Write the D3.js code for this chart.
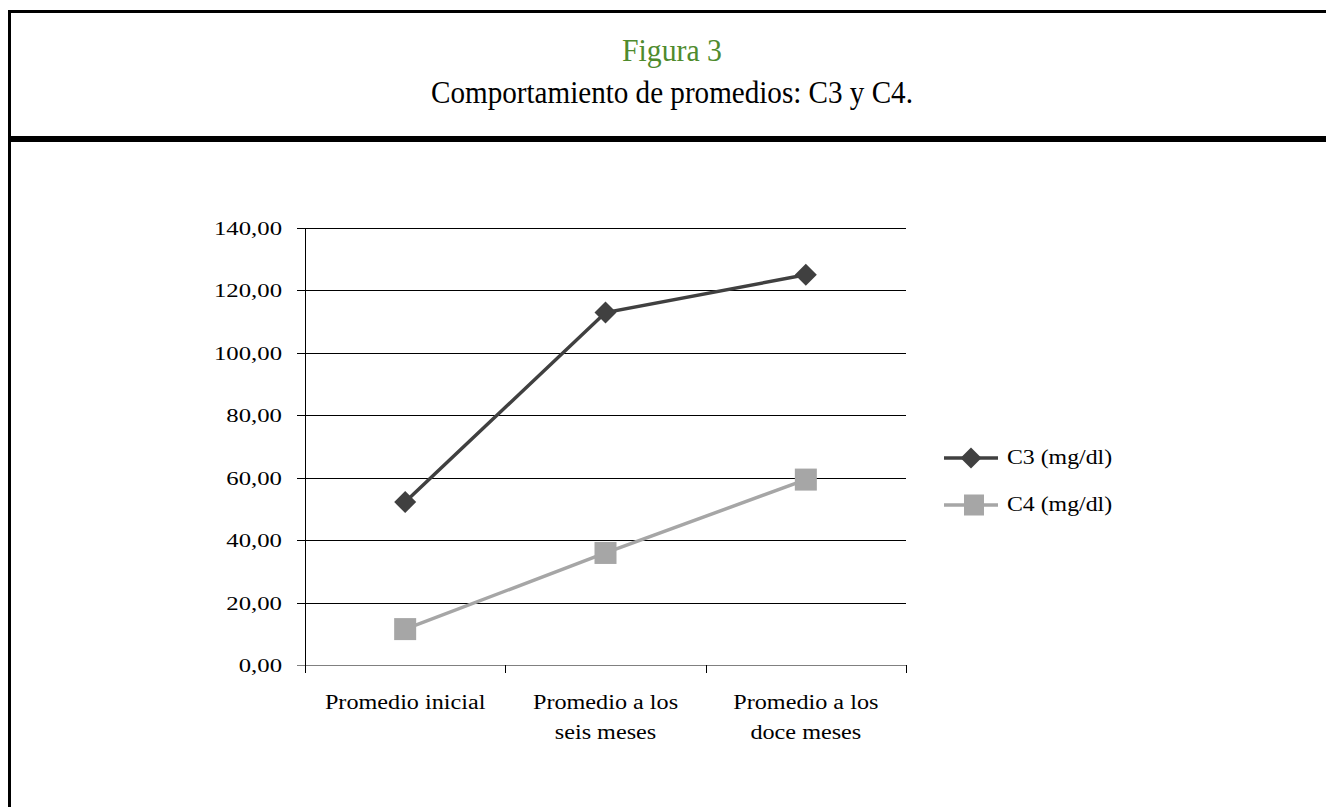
<!DOCTYPE html>
<html><head><meta charset="utf-8">
<script src="https://cdn.jsdelivr.net/npm/d3@7"></script>
<style>html,body{margin:0;padding:0;background:#fff;overflow:hidden}</style>
</head><body>
<svg id="c" width="1326" height="807"></svg>
<script>
const categories = [["Promedio inicial"], ["Promedio a los","seis meses"], ["Promedio a los","doce meses"]];
const catKeys = ["inicial","seis","doce"];
const seriesNames = ["C3 (mg/dl)", "C4 (mg/dl)"];
const c3Values = [52.2, 112.9, 125.0];
const c4Values = [11.5, 35.9, 59.4];
const yTicks = [0,20,40,60,80,100,120,140];

const svg = d3.select("#c");
const font = "'Liberation Serif','Times New Roman',Times,serif";

function txt(g, x, y, s, size, anchor, sx, fill){
  return g.append("text").attr("transform",`translate(${x},${y}) scale(${sx},1)`)
    .attr("text-anchor",anchor).attr("font-family",font).attr("font-size",size)
    .attr("fill",fill||"#000").text(s);
}

// frame
svg.append("line").attr("x1",9.5).attr("x2",9.5).attr("y1",10).attr("y2",807).attr("stroke","#000").attr("stroke-width",3);
svg.append("line").attr("x1",8).attr("x2",1326).attr("y1",11.5).attr("y2",11.5).attr("stroke","#000").attr("stroke-width",3);
svg.append("line").attr("x1",8).attr("x2",1326).attr("y1",139).attr("y2",139).attr("stroke","#000").attr("stroke-width",6);

txt(svg, 672, 61, "Figura 3", 32, "middle", 0.93, "#4f8b2d");
txt(svg, 672, 103, "Comportamiento de promedios: C3 y C4.", 32, "middle", 0.91, "#000");

const x = d3.scaleBand().domain(catKeys).range([305,906]);
const y = d3.scaleLinear().domain([0,140]).range([665,228]);

// gridlines
svg.append("g").selectAll("line").data(yTicks).join("line")
  .attr("x1",297).attr("x2",906)
  .attr("y1",d=>Math.round(y(d))+0.5).attr("y2",d=>Math.round(y(d))+0.5)
  .attr("stroke",d=>d===0?"#808080":"#000").attr("stroke-width",1);

// y axis line
svg.append("line").attr("x1",305.5).attr("x2",305.5).attr("y1",228).attr("y2",666).attr("stroke","#000");

// y labels
const yl = svg.append("g");
yTicks.forEach(d=>{
  txt(yl, 282, y(d)+7, d3.format(".2f")(d).replace(".",","), 19.5, "end", 1.27);
});

// x ticks
const tickXs = catKeys.map(k=>x(k)).concat([x(catKeys[2])+x.bandwidth()]);
svg.append("g").selectAll("line").data(tickXs).join("line")
  .attr("x1",d=>Math.round(d)+0.5).attr("x2",d=>Math.round(d)+0.5).attr("y1",665).attr("y2",673)
  .attr("stroke","#000");

// x labels
const xl = svg.append("g");
categories.forEach((lines,i)=>{
  const cx = x(catKeys[i]) + x.bandwidth()/2;
  lines.forEach((t,j)=>{
    txt(xl, cx, 709+j*30, t, 20, "middle", 1.21);
  });
});

const cx = k => x(k)+x.bandwidth()/2;
const line = d3.line().x((d,i)=>cx(catKeys[i])).y(d=>y(d));

// C4
svg.append("path").datum(c4Values).attr("d",line).attr("fill","none").attr("stroke","#a6a6a6").attr("stroke-width",3.5);
svg.append("g").selectAll("rect").data(c4Values).join("rect")
  .attr("x",(d,i)=>cx(catKeys[i])-11).attr("y",d=>y(d)-11).attr("width",22).attr("height",22).attr("fill","#a6a6a6");

// C3
svg.append("path").datum(c3Values).attr("d",line).attr("fill","none").attr("stroke","#404040").attr("stroke-width",3.5);
const diamond = (px,py,r)=>`M${px},${py-r}L${px+r},${py}L${px},${py+r}L${px-r},${py}Z`;
svg.append("g").selectAll("path").data(c3Values).join("path")
  .attr("d",(d,i)=>diamond(cx(catKeys[i]),y(d),11)).attr("fill","#404040");

// legend
const lg = svg.append("g");
const legendItems = [
  {name:seriesNames[0], color:"#404040", shape:"diamond", y:458},
  {name:seriesNames[1], color:"#a6a6a6", shape:"square", y:505}
];
legendItems.forEach(it=>{
  lg.append("line").attr("x1",944).attr("x2",998).attr("y1",it.y).attr("y2",it.y).attr("stroke",it.color).attr("stroke-width",3.5);
  if(it.shape==="diamond") lg.append("path").attr("d",diamond(971,it.y,10.5)).attr("fill",it.color);
  else lg.append("rect").attr("x",964).attr("y",it.y-10.5).attr("width",20).attr("height",21).attr("fill",it.color);
  txt(lg, 1007, it.y+6, it.name, 20, "start", 1.19);
});
</script>
</body></html>
